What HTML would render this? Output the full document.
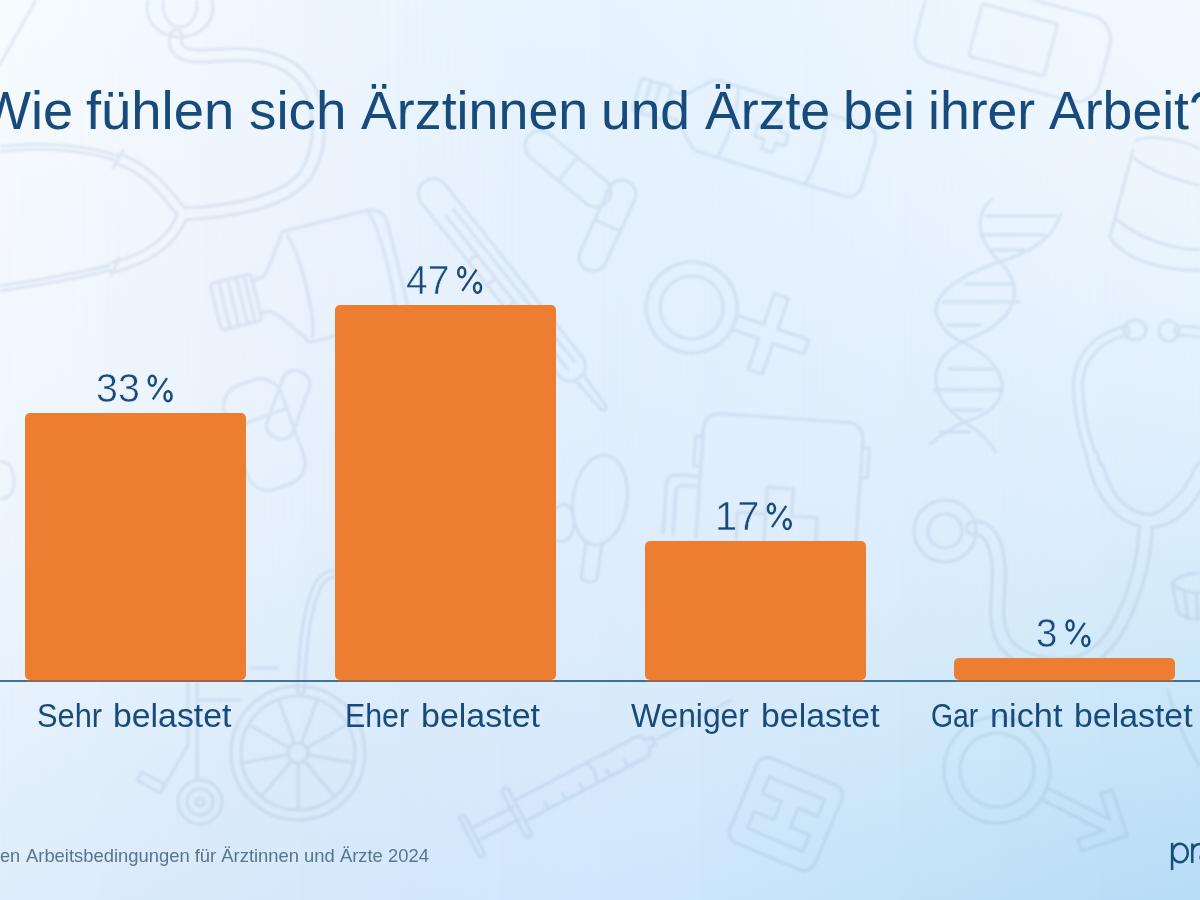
<!DOCTYPE html>
<html lang="de">
<head>
<meta charset="utf-8">
<title>Wie fühlen sich Ärztinnen und Ärzte bei ihrer Arbeit?</title>
<style>
html,body{margin:0;padding:0;}
body{width:1200px;height:900px;overflow:hidden;position:relative;font-family:"Liberation Sans",sans-serif;color:#164b7b;
background:#e1eefd;}
.g{position:absolute;left:0;top:0;width:1200px;height:900px;}
#g0{background:linear-gradient(to bottom,rgb(246.6,252.3,254.3) 0.00%,rgb(245.6,251.0,253.8) 8.33%,rgb(244.9,249.7,253.4) 16.67%,rgb(244.1,248.8,253.2) 25.00%,rgb(243.0,248.1,253.4) 33.33%,rgb(241.6,247.6,253.7) 41.67%,rgb(240.0,246.9,254.0) 50.00%,rgb(237.8,245.9,254.0) 58.33%,rgb(234.9,244.2,253.3) 66.67%,rgb(231.9,242.4,252.6) 75.00%,rgb(228.8,240.5,251.9) 83.33%,rgb(225.9,238.7,251.4) 91.67%,rgb(223.0,237.0,251.1) 100.00%);}
#g1{background:linear-gradient(to bottom,rgb(243.9,250.3,254.2) 0.00%,rgb(242.9,249.0,253.6) 8.33%,rgb(242.1,247.8,253.1) 16.67%,rgb(241.2,246.8,252.9) 25.00%,rgb(240.0,246.1,252.9) 33.33%,rgb(238.6,245.6,253.1) 41.67%,rgb(236.9,244.9,253.3) 50.00%,rgb(234.6,243.8,253.1) 58.33%,rgb(231.6,242.2,252.6) 66.67%,rgb(228.4,240.3,251.8) 75.00%,rgb(225.2,238.4,251.1) 83.33%,rgb(222.3,236.7,250.7) 91.67%,rgb(219.5,235.2,250.6) 100.00%);-webkit-mask-image:linear-gradient(to right,transparent 0.000%,#000 8.333%);mask-image:linear-gradient(to right,transparent 0.000%,#000 8.333%);}
#g2{background:linear-gradient(to bottom,rgb(241.2,248.4,254.2) 0.00%,rgb(240.2,247.1,253.6) 8.33%,rgb(239.2,245.9,253.1) 16.67%,rgb(238.1,245.0,252.8) 25.00%,rgb(237.0,244.3,252.6) 33.33%,rgb(235.6,243.6,252.6) 41.67%,rgb(233.8,242.8,252.5) 50.00%,rgb(231.4,241.6,252.3) 58.33%,rgb(228.4,240.1,251.8) 66.67%,rgb(225.0,238.3,251.1) 75.00%,rgb(221.6,236.4,250.5) 83.33%,rgb(218.7,234.8,250.2) 91.67%,rgb(216.1,233.5,250.3) 100.00%);-webkit-mask-image:linear-gradient(to right,transparent 8.333%,#000 16.667%);mask-image:linear-gradient(to right,transparent 8.333%,#000 16.667%);}
#g3{background:linear-gradient(to bottom,rgb(238.4,246.6,254.2) 0.00%,rgb(237.2,245.3,253.7) 8.33%,rgb(236.1,244.3,253.1) 16.67%,rgb(235.1,243.4,252.7) 25.00%,rgb(234.0,242.6,252.5) 33.33%,rgb(232.7,241.8,252.2) 41.67%,rgb(230.9,240.9,252.0) 50.00%,rgb(228.5,239.8,251.8) 58.33%,rgb(225.6,238.4,251.4) 66.67%,rgb(222.2,236.7,250.8) 75.00%,rgb(218.6,234.8,250.2) 83.33%,rgb(215.7,233.4,250.1) 91.67%,rgb(213.3,232.2,250.4) 100.00%);-webkit-mask-image:linear-gradient(to right,transparent 16.667%,#000 25.000%);mask-image:linear-gradient(to right,transparent 16.667%,#000 25.000%);}
#g4{background:linear-gradient(to bottom,rgb(235.0,245.1,254.2) 0.00%,rgb(233.9,243.8,253.7) 8.33%,rgb(233.0,242.8,253.1) 16.67%,rgb(232.3,242.0,252.7) 25.00%,rgb(231.4,241.3,252.5) 33.33%,rgb(230.1,240.5,252.3) 41.67%,rgb(228.4,239.6,252.1) 50.00%,rgb(226.2,238.5,251.9) 58.33%,rgb(223.5,237.2,251.5) 66.67%,rgb(220.4,235.7,251.1) 75.00%,rgb(217.1,234.1,250.8) 83.33%,rgb(214.2,232.7,250.8) 91.67%,rgb(211.5,231.4,251.0) 100.00%);-webkit-mask-image:linear-gradient(to right,transparent 25.000%,#000 33.333%);mask-image:linear-gradient(to right,transparent 25.000%,#000 33.333%);}
#g5{background:linear-gradient(to bottom,rgb(232.0,243.9,254.1) 0.00%,rgb(230.9,242.7,253.6) 8.33%,rgb(230.5,241.9,253.1) 16.67%,rgb(230.1,241.1,252.8) 25.00%,rgb(229.3,240.3,252.7) 33.33%,rgb(228.1,239.5,252.7) 41.67%,rgb(226.5,238.6,252.6) 50.00%,rgb(224.5,237.7,252.3) 58.33%,rgb(222.1,236.5,251.9) 66.67%,rgb(219.2,235.3,251.5) 75.00%,rgb(216.2,233.9,251.4) 83.33%,rgb(213.3,232.5,251.6) 91.67%,rgb(210.0,231.0,251.7) 100.00%);-webkit-mask-image:linear-gradient(to right,transparent 33.333%,#000 41.667%);mask-image:linear-gradient(to right,transparent 33.333%,#000 41.667%);}
#g6{background:linear-gradient(to bottom,rgb(230.6,243.4,254.1) 0.00%,rgb(229.5,242.3,253.7) 8.33%,rgb(229.2,241.5,253.2) 16.67%,rgb(228.8,240.7,253.0) 25.00%,rgb(228.0,239.9,253.0) 33.33%,rgb(226.8,239.0,253.0) 41.67%,rgb(225.2,238.1,253.0) 50.00%,rgb(223.4,237.2,252.6) 58.33%,rgb(221.0,236.2,252.1) 66.67%,rgb(218.2,235.0,251.7) 75.00%,rgb(215.0,233.7,251.6) 83.33%,rgb(211.7,232.3,251.8) 91.67%,rgb(208.0,230.6,251.8) 100.00%);-webkit-mask-image:linear-gradient(to right,transparent 41.667%,#000 50.000%);mask-image:linear-gradient(to right,transparent 41.667%,#000 50.000%);}
#g7{background:linear-gradient(to bottom,rgb(231.4,243.9,254.3) 0.00%,rgb(230.1,242.7,253.9) 8.33%,rgb(229.4,241.8,253.6) 16.67%,rgb(228.7,240.8,253.3) 25.00%,rgb(227.6,239.8,253.2) 33.33%,rgb(226.2,238.8,253.2) 41.67%,rgb(224.6,237.9,253.0) 50.00%,rgb(222.7,237.1,252.6) 58.33%,rgb(220.2,236.1,252.0) 66.67%,rgb(216.9,234.8,251.4) 75.00%,rgb(213.0,233.3,251.0) 83.33%,rgb(208.9,231.6,250.8) 91.67%,rgb(204.4,229.6,250.5) 100.00%);-webkit-mask-image:linear-gradient(to right,transparent 50.000%,#000 58.333%);mask-image:linear-gradient(to right,transparent 50.000%,#000 58.333%);}
#g8{background:linear-gradient(to bottom,rgb(233.5,244.8,254.4) 0.00%,rgb(232.0,243.6,254.1) 8.33%,rgb(230.8,242.6,253.9) 16.67%,rgb(229.5,241.4,253.7) 25.00%,rgb(228.0,240.1,253.4) 33.33%,rgb(226.2,238.9,253.1) 41.67%,rgb(224.4,238.0,252.8) 50.00%,rgb(222.3,237.2,252.3) 58.33%,rgb(219.4,236.1,251.6) 66.67%,rgb(215.3,234.6,250.8) 75.00%,rgb(210.4,232.7,250.0) 83.33%,rgb(205.1,230.5,249.2) 91.67%,rgb(199.8,228.2,248.6) 100.00%);-webkit-mask-image:linear-gradient(to right,transparent 58.333%,#000 66.667%);mask-image:linear-gradient(to right,transparent 58.333%,#000 66.667%);}
#g9{background:linear-gradient(to bottom,rgb(236.0,246.0,254.5) 0.00%,rgb(234.4,244.8,254.2) 8.33%,rgb(232.9,243.6,254.1) 16.67%,rgb(231.1,242.3,253.8) 25.00%,rgb(228.9,240.7,253.5) 33.33%,rgb(226.5,239.2,253.1) 41.67%,rgb(224.2,238.2,252.7) 50.00%,rgb(221.7,237.3,252.0) 58.33%,rgb(218.4,236.1,251.1) 66.67%,rgb(213.2,234.1,250.0) 75.00%,rgb(207.1,231.7,248.9) 83.33%,rgb(200.9,229.1,247.8) 91.67%,rgb(194.9,226.4,247.0) 100.00%);-webkit-mask-image:linear-gradient(to right,transparent 66.667%,#000 75.000%);mask-image:linear-gradient(to right,transparent 66.667%,#000 75.000%);}
#g10{background:linear-gradient(to bottom,rgb(238.5,247.1,254.4) 0.00%,rgb(236.9,245.9,254.1) 8.33%,rgb(235.2,244.7,253.8) 16.67%,rgb(232.9,243.2,253.6) 25.00%,rgb(230.1,241.6,253.4) 33.33%,rgb(227.1,239.9,253.2) 41.67%,rgb(224.0,238.6,252.7) 50.00%,rgb(220.6,237.4,251.7) 58.33%,rgb(216.2,235.8,250.5) 66.67%,rgb(210.3,233.4,249.3) 75.00%,rgb(203.5,230.4,248.2) 83.33%,rgb(196.6,227.3,247.2) 91.67%,rgb(190.3,224.3,246.6) 100.00%);-webkit-mask-image:linear-gradient(to right,transparent 75.000%,#000 83.333%);mask-image:linear-gradient(to right,transparent 75.000%,#000 83.333%);}
#g11{background:linear-gradient(to bottom,rgb(240.7,248.0,254.3) 0.00%,rgb(239.1,246.9,253.8) 8.33%,rgb(237.1,245.6,253.4) 16.67%,rgb(234.5,244.1,253.2) 25.00%,rgb(231.1,242.3,253.3) 33.33%,rgb(227.4,240.5,253.3) 41.67%,rgb(223.5,238.9,252.8) 50.00%,rgb(219.0,237.4,251.4) 58.33%,rgb(213.7,235.3,249.9) 66.67%,rgb(207.1,232.4,248.8) 75.00%,rgb(199.9,228.9,247.9) 83.33%,rgb(192.5,225.3,247.2) 91.67%,rgb(185.9,222.0,246.7) 100.00%);-webkit-mask-image:linear-gradient(to right,transparent 83.333%,#000 91.667%);mask-image:linear-gradient(to right,transparent 83.333%,#000 91.667%);}
#g12{background:linear-gradient(to bottom,rgb(241.9,248.6,254.1) 0.00%,rgb(240.2,247.5,253.6) 8.33%,rgb(237.9,246.1,253.2) 16.67%,rgb(235.0,244.5,253.0) 25.00%,rgb(231.2,242.6,253.2) 33.33%,rgb(227.0,240.7,253.3) 41.67%,rgb(222.4,238.9,252.8) 50.00%,rgb(217.1,237.1,251.1) 58.33%,rgb(211.1,234.7,249.5) 66.67%,rgb(204.1,231.3,248.6) 75.00%,rgb(196.6,227.6,247.9) 83.33%,rgb(189.0,223.7,247.3) 91.67%,rgb(182.3,220.2,246.9) 100.00%);-webkit-mask-image:linear-gradient(to right,transparent 91.667%,#000 100.000%);mask-image:linear-gradient(to right,transparent 91.667%,#000 100.000%);}
#bgart{position:absolute;left:0;top:0;width:1200px;height:900px;filter:blur(0.8px);}
#logo,#pct{position:absolute;left:0;top:0;width:1200px;height:900px;}
.t{position:absolute;white-space:nowrap;line-height:1;transform-origin:0 0;}
.title{font-size:54.5px;}
.val{font-size:39.9px;}
.cat{font-size:33.1px;}
.foot{font-size:18.5px;color:#56758f;}
.bar{position:absolute;background:#ed7d31;border-radius:5px;}
.axis{position:absolute;left:0;width:1200px;top:680.4px;height:1.5px;background:#42729c;}
.ax2{position:absolute;top:680.4px;height:1.5px;background:#8a6c5c;}
</style>
</head>
<body>
<div class="g" id="g0"></div>
<div class="g" id="g1"></div>
<div class="g" id="g2"></div>
<div class="g" id="g3"></div>
<div class="g" id="g4"></div>
<div class="g" id="g5"></div>
<div class="g" id="g6"></div>
<div class="g" id="g7"></div>
<div class="g" id="g8"></div>
<div class="g" id="g9"></div>
<div class="g" id="g10"></div>
<div class="g" id="g11"></div>
<div class="g" id="g12"></div>
<svg id="bgart" viewBox="0 0 1200 900"><defs><mask id="tm" maskUnits="userSpaceOnUse" x="0" y="0" width="1200" height="900"><rect width="1200" height="900" fill="#fff"/><g fill="none" stroke="#000" stroke-linecap="round" stroke-linejoin="round">
<path d="M176 36C172 52 186 57 206 56C240 53 272 52 296 72C322 96 326 142 305 176C284 202 232 212 183 214" stroke-width="9.0"/>
<path d="M183 214C168 195 150 170 119 159" stroke-width="7.0"/>
<path d="M183 214C173 240 150 258 114 267" stroke-width="7.0"/>
<path d="M117 158C80 146 30 144 -5 150" stroke-width="2.0"/>
<path d="M113 267C70 278 30 284 -5 289" stroke-width="2.0"/>
<path d="M1125 331C1095 338 1078 360 1078 385C1079 420 1088 450 1098 470" stroke-width="6.0"/>
<path d="M1098 470C1105 500 1125 520 1150 521C1175 520 1192 500 1205 465" stroke-width="10.0"/>
<path d="M1179 331C1190 330 1198 332 1206 334" stroke-width="6.0"/>
<path d="M973 528C990 526 998 545 999 573C999 595 992 625 1006 644C1020 662 1050 668 1075 664C1110 655 1128 615 1140 570C1144 550 1146 535 1146 522" stroke-width="10.0"/>
<path d="M1146 522C1128 518 1100 500 1092 455" stroke-width="8.0"/>
<path d="M1146 522C1165 518 1188 500 1200 470" stroke-width="8.0"/>
<path d="M301 690C302 650 306 610 318 585C322 578 328 574 333 574" stroke-width="4.0"/>
</g></mask></defs>
<g opacity="0.13" fill="none" stroke="#567fa8" stroke-width="3.0" stroke-linecap="round" stroke-linejoin="round">
<ellipse cx="180" cy="8" rx="33" ry="29"/><ellipse cx="180" cy="5" rx="17" ry="22"/>
<path d="M123 150L113 168M119 258L111 276"/>
<path d="M37 -2L-2 68"/>
<g transform="translate(236 302) rotate(-14)"><rect x="-21" y="-24" width="42" height="48" rx="4"/><path d="M-12 -24V24M-3 -24V24M6 -24V24M14 -24V24"/><path d="M21 -17H30C38 -20 50 -40 62 -57H150C160 -57 166 -50 166 -40V40C166 50 160 57 150 57H62C50 40 38 20 30 17H21"/><path d="M66 -52C74 -30 74 30 66 52M150 -57C158 -30 158 30 150 57"/></g>
<g transform="translate(424 182) rotate(51.5)"><rect x="0" y="-15" width="250" height="30" rx="15"/><path d="M250 -5L288 -3C292 -2 292 2 288 3L250 5"/><path d="M40 -6H235M40 4H235M90 4V12M120 4V12M150 4V12M180 4V12M210 4V12"/></g>
<g transform="translate(540 146) rotate(39.4)"><rect x="-15.0" y="-15.0" width="102.47068372797375" height="30" rx="15.0"/><path d="M36.235341863986875 -15.0V15.0"/></g>
<g transform="translate(622 194) rotate(114.7)"><rect x="-14.0" y="-14.0" width="97.35416353759881" height="28" rx="14.0"/><path d="M34.677081768799404 -14.0V14.0"/></g>
<g transform="translate(787 140) rotate(17)"><path d="M-85 -37H71C79 -37 85 -31 85 -23V23C85 31 79 37 71 37H-85C-96 30 -104 18 -112 13H-125V-13H-112C-104 -18 -96 -30 -85 -37Z"/><rect x="-157" y="-17" width="32" height="34" rx="3"/><path d="M-147 -17V17M-137 -17V17"/><path d="M-62 -37C-56 -15 -56 15 -62 37M30 -37C36 -15 36 15 30 37"/><path d="M-22 -16H-10V-6H0V6H-10V16H-22V6H-32V-6H-22Z"/></g>
<g transform="translate(1013 40) rotate(15)"><rect x="-95" y="-44" width="190" height="88" rx="24"/><rect x="-39" y="-27" width="78" height="54" rx="3"/></g>
<path d="M1136 141C1150 133 1190 141 1205 152M1133 150L1110 237C1125 262 1170 272 1205 270M1134 158C1150 171 1180 182 1205 186M1116 219C1140 240 1175 250 1205 250"/>
<path d="M992 199C975 215 975 238 1000 262C1022 284 1026 318 962 342C925 362 928 398 965 422C980 432 990 442 996 452"/>
<path d="M1061 214C1052 240 1030 252 1000 262C955 276 925 300 940 322C945 332 952 338 962 342C1005 362 1012 392 990 410C980 417 972 420 965 422C950 428 940 436 930 444"/>
<path d="M986 216H1056M981 235H1044M992 250H1024M966 284H1014M943 302H1019M948 325H980M949 369H995M934 390H1000M952 410H982M940 432H970"/>
<g transform="translate(691.7 307.5) rotate(19)"><circle r="45.5"/><circle r="31.5"/><path d="M46 -7.5H73.5V-40H88.5V-7.5H121V7.5H88.5V40H73.5V7.5H46"/></g>
<g transform="translate(997 770) rotate(26.7)"><circle r="53"/><circle r="37"/><path d="M52 -6.5H122.5L103.5 -25.5L112 -34L146 0L112 34L103.5 25.5L122.5 6.5H52"/></g>
<ellipse cx="1135" cy="330" rx="11" ry="10"/><ellipse cx="1169" cy="331" rx="10" ry="10"/>
<circle cx="945" cy="531" r="31"/><circle cx="945" cy="531" r="17"/>
<path d="M1172 583C1180 574 1195 572 1205 574M1172 583L1178 612C1186 620 1196 620 1205 618M1172 583C1180 592 1195 594 1205 592M1184 590L1188 618M1196 593L1198 620"/>
<path d="M1168 690C1175 720 1190 750 1205 775"/>
<g transform="translate(780 480) rotate(4)"><path d="M-80 62V-45C-80 -55 -74 -62 -64 -62H64C74 -62 80 -55 80 -45V62"/><path d="M-80 -38H-87V-8H-80M80 -38H87V-8H80"/><path d="M-113 62V12C-113 6 -109 2 -103 2H-80M-103 62V18C-103 14 -100 12 -96 12H-80"/><path d="M-12 62V35H-40V62M-12 35V8H14V35H40V62"/></g>
<g transform="translate(600 500) rotate(8)"><ellipse rx="27" ry="45"/><path d="M-8 44V78C-8 84 8 84 8 78V44"/></g>
<path d="M556 508C565 500 572 505 574 520C575 535 566 545 556 540"/>
<g transform="translate(262 428) rotate(-20)"><rect x="-30" y="-48" width="60" height="110" rx="22"/><path d="M-30 -10H30"/></g>
<g transform="translate(290 400) rotate(20)"><rect x="-14" y="-30" width="28" height="70" rx="12"/></g>
<path d="M-2 462C10 460 14 470 14 482C14 495 8 500 -2 498"/>
<circle cx="298" cy="753" r="67"/><circle cx="298" cy="753" r="57"/><circle cx="298" cy="753" r="10"/><path d="M307.8 754.7L354.1 762.9"/><path d="M304.4 760.7L334.6 796.7"/><path d="M298.0 763.0L298.0 810.0"/><path d="M291.6 760.7L261.4 796.7"/><path d="M288.2 754.7L241.9 762.9"/><path d="M289.3 748.0L248.6 724.5"/><path d="M294.6 743.6L278.5 699.4"/><path d="M301.4 743.6L317.5 699.4"/><path d="M306.7 748.0L347.4 724.5"/><circle cx="200" cy="802" r="22"/><circle cx="200" cy="802" r="13"/><circle cx="200" cy="802" r="4"/><path d="M188 683V745L160 793M197 683V780M160 793L137 780M137 780L142 772L166 785"/><path d="M250 668H278M197 700H240"/>
<g transform="translate(472 836) rotate(-27.7)"><rect x="-3" y="-23" width="6" height="46" rx="3"/><path d="M3 -7H50M3 7H50"/><rect x="47" y="-27" width="7" height="54" rx="3"/><path d="M54 -11.5H190C196 -11.5 198 -6 198 -4H205V4H198C198 6 196 11.5 190 11.5H54"/><path d="M205 0H292"/><path d="M134 -11.5C140 -5 140 5 134 11.5M80 11.5V4M100 11.5V4M120 11.5V4M150 11.5V4M170 11.5V4"/></g>
<g transform="translate(786 814) rotate(22.8)"><rect x="-46" y="-46" width="92" height="92" rx="12"/><path transform="rotate(90)" d="M-28 -30H-10V-9H10V-30H28V30H10V9H-10V30H-28Z"/></g>
<g mask="url(#tm)">
<path d="M176 36C172 52 186 57 206 56C240 53 272 52 296 72C322 96 326 142 305 176C284 202 232 212 183 214" stroke-width="15.0"/>
<path d="M183 214C168 195 150 170 119 159" stroke-width="13.0"/>
<path d="M183 214C173 240 150 258 114 267" stroke-width="13.0"/>
<path d="M117 158C80 146 30 144 -5 150" stroke-width="8.0"/>
<path d="M113 267C70 278 30 284 -5 289" stroke-width="8.0"/>
<path d="M1125 331C1095 338 1078 360 1078 385C1079 420 1088 450 1098 470" stroke-width="12.0"/>
<path d="M1098 470C1105 500 1125 520 1150 521C1175 520 1192 500 1205 465" stroke-width="16.0"/>
<path d="M1179 331C1190 330 1198 332 1206 334" stroke-width="12.0"/>
<path d="M973 528C990 526 998 545 999 573C999 595 992 625 1006 644C1020 662 1050 668 1075 664C1110 655 1128 615 1140 570C1144 550 1146 535 1146 522" stroke-width="16.0"/>
<path d="M1146 522C1128 518 1100 500 1092 455" stroke-width="14.0"/>
<path d="M1146 522C1165 518 1188 500 1200 470" stroke-width="14.0"/>
<path d="M301 690C302 650 306 610 318 585C322 578 328 574 333 574" stroke-width="10.0"/>
</g></g></svg>
<div class="bar" style="left:24.5px;top:413.4px;width:221.5px;height:266.8px"></div>
<div class="bar" style="left:334.5px;top:305px;width:221.5px;height:375.2px"></div>
<div class="bar" style="left:644.5px;top:541.3px;width:221.5px;height:138.9px"></div>
<div class="bar" style="left:953.5px;top:658.1px;width:221.5px;height:22.1px"></div>
<div class="axis"></div>
<div class="ax2" style="left:27px;width:216.5px"></div><div class="ax2" style="left:337px;width:216.5px"></div><div class="ax2" style="left:647px;width:216.5px"></div><div class="ax2" style="left:956px;width:216.5px"></div>
<div class="t title" id="w1" style="left:-20.15px;top:84.42px;transform:scaleX(0.9918)">Wie</div>
<div class="t title" id="w2" style="left:86.35px;top:84.42px;transform:scaleX(0.9976)">fühlen</div>
<div class="t title" id="w3" style="left:249.09px;top:84.42px;transform:scaleX(1.0054)">sich</div>
<div class="t title" id="w4" style="left:360.65px;top:84.42px;transform:scaleX(0.9868)">Ärztinnen</div>
<div class="t title" id="w5" style="left:600.57px;top:84.42px;transform:scaleX(0.9792)">und</div>
<div class="t title" id="w6" style="left:704.75px;top:84.42px;transform:scaleX(0.9839)">Ärzte</div>
<div class="t title" id="w7" style="left:842.79px;top:84.42px;transform:scaleX(0.9885)">bei</div>
<div class="t title" id="w8" style="left:928.21px;top:84.42px;transform:scaleX(0.9832)">ihrer</div>
<div class="t title" id="w9" style="left:1049.35px;top:84.42px;transform:scaleX(0.9834)">Arbeit?</div>
<div class="t val" id="v1d" style="left:96.22px;top:369.48px;transform:scaleX(0.9878);-webkit-text-stroke:0.55px #eff6fd">33</div>
<div class="t val" id="v2d" style="left:405.52px;top:260.98px;transform:scaleX(0.9818);-webkit-text-stroke:0.55px #e8f3fd">47</div>
<div class="t val" id="v3d" style="left:714.90px;top:497.28px;transform:scaleX(0.9987);-webkit-text-stroke:0.55px #ddedfc">17</div>
<div class="t val" id="v4d" style="left:1036.06px;top:614.28px;transform:scaleX(0.9632);-webkit-text-stroke:0.55px #d0e8f9">3</div>
<div class="t cat" id="c1a" style="left:37.10px;top:698.50px;transform:scaleX(0.9314)">Sehr</div>
<div class="t cat" id="c1b" style="left:113.30px;top:698.50px;transform:scaleX(1.0220)">belastet</div>
<div class="t cat" id="c2a" style="left:345.48px;top:698.50px;transform:scaleX(0.9173)">Eher</div>
<div class="t cat" id="c2b" style="left:420.69px;top:698.50px;transform:scaleX(1.0273)">belastet</div>
<div class="t cat" id="c3a" style="left:630.96px;top:698.50px;transform:scaleX(0.9618)">Weniger</div>
<div class="t cat" id="c3b" style="left:760.50px;top:698.50px;transform:scaleX(1.0238)">belastet</div>
<div class="t cat" id="c4a" style="left:931.30px;top:698.50px;transform:scaleX(0.8550)">Gar</div>
<div class="t cat" id="c4b" style="left:990.47px;top:698.50px;transform:scaleX(1.0370)">nicht</div>
<div class="t cat" id="c4c" style="left:1074.00px;top:698.50px;transform:scaleX(1.0238)">belastet</div>
<div class="t foot" id="f0" style="left:0.16px;top:846.66px;transform:scaleX(0.9813)">en</div>
<div class="t foot" id="f1" style="left:25.70px;top:846.66px;transform:scaleX(0.9942)">Arbeitsbedingungen für Ärztinnen und Ärzte 2024</div>
<svg id="pct" viewBox="0 0 1200 900" fill="none" stroke="#164b7b" stroke-width="2.5"><g transform="translate(147.5,402.3)"><ellipse cx="4.75" cy="-21.5" rx="3.5" ry="4.95"/><ellipse cx="20.55" cy="-6.0" rx="3.5" ry="4.95"/><path d="M19.5 -24.2 L5.3 -2.9" stroke-width="2.2"/></g><g transform="translate(457.0,293.8)"><ellipse cx="4.75" cy="-21.5" rx="3.5" ry="4.95"/><ellipse cx="20.55" cy="-6.0" rx="3.5" ry="4.95"/><path d="M19.5 -24.2 L5.3 -2.9" stroke-width="2.2"/></g><g transform="translate(766.7,530.1)"><ellipse cx="4.75" cy="-21.5" rx="3.5" ry="4.95"/><ellipse cx="20.55" cy="-6.0" rx="3.5" ry="4.95"/><path d="M19.5 -24.2 L5.3 -2.9" stroke-width="2.2"/></g><g transform="translate(1065.3,647.0)"><ellipse cx="4.75" cy="-21.5" rx="3.5" ry="4.95"/><ellipse cx="20.55" cy="-6.0" rx="3.5" ry="4.95"/><path d="M19.5 -24.2 L5.3 -2.9" stroke-width="2.2"/></g></svg>
<svg id="logo" viewBox="0 0 1200 900" fill="none" stroke="#1a4e7a" stroke-width="2.5">
<path d="M1172.1 842.9V870.1"/><ellipse cx="1180" cy="852.95" rx="7.8" ry="9.3"/>
<path d="M1192.3 843.5V862.9M1192.3 851.5C1192.6 846.8 1195.6 844 1200.5 844"/>
<ellipse cx="1209" cy="857.5" rx="8.4" ry="5.2"/>
</svg>
</body>
</html>
